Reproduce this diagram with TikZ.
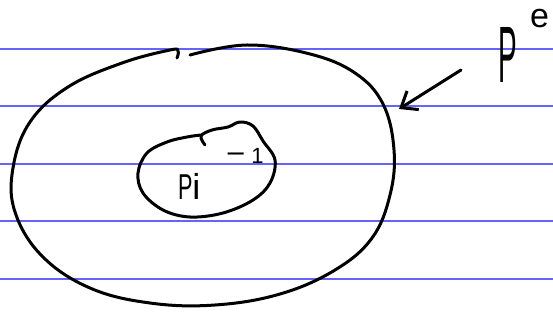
\documentclass[tikz,border=0pt]{standalone}
\usepackage{fontspec}
\setmainfont{Liberation Sans}
\usetikzlibrary{arrows.meta}
\definecolor{ruleblue}{RGB}{100,100,250}
\tikzset{
  ink/.style={black, line width=3pt, line cap=round, line join=round},
  rule/.style={ruleblue, line width=1.1pt},
  hand/.style={inner sep=0pt, outer sep=0pt}
}
\begin{document}
\begin{tikzpicture}[x=1pt,y=-1pt]
\useasboundingbox (0,0) rectangle (553,323);
% ruled lines
\foreach \yy in {49,106,164,221,279}
  \draw[rule] (0,\yy) -- (553,\yy);
% outer ellipse (with gap at top)
\draw[ink] plot[smooth, tension=0.65] coordinates {(190,55) (247,45) (310,54) (355,73) (383,104) (394,150) (390,195) (372,238) (335,270) (280,294) (215,305) (150,303) (90,288) (42,256) (15,212) (13,168) (30,122) (68,87) (122,63) (170,50) (178,51) (177,58)};
% inner blob
\draw[ink] plot[smooth, tension=0.6] coordinates {(205,145) (201,136) (212,130) (228,127) (240,122) (253,126) (263,141) (275,160) (270,183) (253,200) (223,213) (190,217) (163,210) (143,193) (138,173) (147,153) (167,142) (187,137) (201,135)};
% labels
\node[hand, anchor=base west, font=\fontsize{36}{36}\selectfont] (pi) at (178,199) {\scalebox{0.6}[1]{P}i};
\node[hand, anchor=base west, font=\fontsize{22}{22}\selectfont] (mone) at (226,163) {\scalebox{1.5}[1.3]{−}\kern6pt 1};
\node[hand, anchor=base west, font=\fontsize{80}{80}\selectfont] (pe) at (498,83) {\scalebox{0.35}[1]{P}};
\node[hand, anchor=base west, font=\fontsize{34}{34}\selectfont] (e) at (530,28) {e};
% arrow
\coordinate (arrS) at (461,70);
\coordinate (arrE) at (399,109);
\draw[ink, -{Straight Barb[length=14pt,width=22pt,line width=3pt]}] (arrS) -- (arrE);
\end{tikzpicture}
\end{document}
